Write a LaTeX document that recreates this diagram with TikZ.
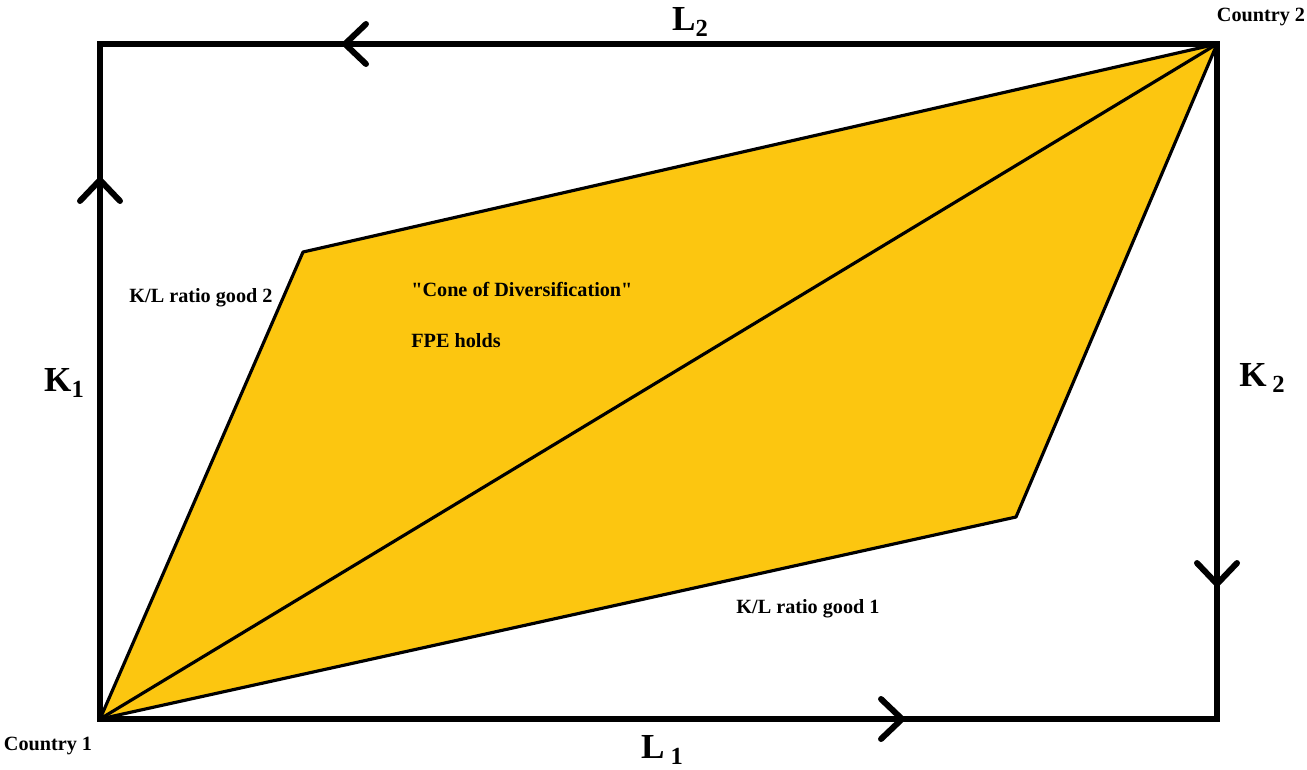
\documentclass[tikz,border=0pt]{standalone}
\usepackage{fontspec}
\setmainfont{Liberation Serif}[Ligatures=TeXOff]
\usetikzlibrary{arrows.meta,positioning}
\definecolor{conefill}{RGB}{252,198,16}
\newcommand{\lowsub}[1]{\raisebox{-0.35ex}{\fontsize{14pt}{14pt}\selectfont #1}}

\begin{document}
\begin{tikzpicture}[x=0.02cm, y=-0.02cm,
    boxline/.style={line width=3.4pt},
    coneline/.style={line width=1.8pt, line join=round},
    flow/.style={boxline, -{Straight Barb[length=0.42cm, width=0.8cm, round]}},
    axislabel/.style={font=\fontsize{20pt}{20pt}\selectfont\bfseries, inner sep=0pt},
    note/.style={font=\fontsize{11.5pt}{12pt}\selectfont\bfseries, inner sep=0pt}
]
\useasboundingbox (0,0) rectangle (1307,769);

% Corners of the box and of the cone
\coordinate (c1) at (100,719);
\coordinate (c2) at (1217,44);
\coordinate (g2) at (303,252);
\coordinate (g1) at (1016,517);

% Cone of diversification
\filldraw[coneline, fill=conefill] (c1) -- (g2) -- (c2) -- (g1) -- cycle;
\draw[coneline] (c1) -- (c2);

% Box with direction marks
\draw[boxline] (c1) rectangle (c2);
\coordinate (tipL2) at (342,44);
\coordinate (tipL1) at (905,719);
\coordinate (tipK1) at (100,177);
\coordinate (tipK2) at (1217,587);
\draw[flow] (c2) -- (tipL2);
\draw[flow] (c1) -- (tipL1);
\draw[flow] (c1) -- (tipK1);
\draw[flow] (c2) -- (tipK2);

% Labels
\node[axislabel] (labL2) at (690,22) {L\lowsub{2}};
\node[axislabel] (labL1) at (662,750) {L\,\lowsub{1}};
\node[axislabel] (labK1) at (64,383) {K\lowsub{1}};
\node[axislabel] (labK2) at (1262,378) {K\,\lowsub{2}};
\node[note] (country2) at (1261,17) {Country 2};
\node[note] (country1) at (48,746) {Country 1};
\node[note] (ratio2) at (201,298) {K/L ratio good 2};
\node[note] (ratio1) at (808,609) {K/L ratio good 1};
\node[note, anchor=west] (cone) at (411,289) {"Cone of Diversification"};
\node[note, anchor=west] (fpe) at (411,341) {FPE holds};

\end{tikzpicture}
\end{document}
